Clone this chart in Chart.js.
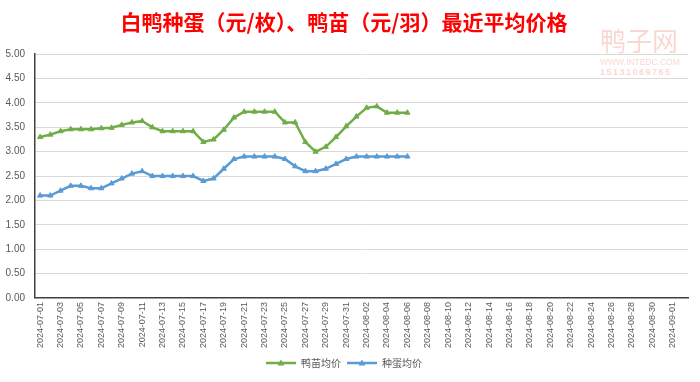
<!DOCTYPE html>
<html>
<head>
<meta charset="utf-8">
<script src="https://cdn.jsdelivr.net/npm/chart.js@4.4.1/dist/chart.umd.min.js"></script>
<style>
  html, body { margin: 0; padding: 0; background: #fff; }
  #wrap { width: 700px; height: 382px; position: relative; }
</style>
</head>
<body>
<div id="wrap"><canvas id="canvas"></canvas></div>
<script>
const dates = [
  "2024-07-01", "2024-07-02", "2024-07-03", "2024-07-04", "2024-07-05", "2024-07-06", "2024-07-07", "2024-07-08",
  "2024-07-09", "2024-07-10", "2024-07-11", "2024-07-12", "2024-07-13", "2024-07-14", "2024-07-15", "2024-07-16",
  "2024-07-17", "2024-07-18", "2024-07-19", "2024-07-20", "2024-07-21", "2024-07-22", "2024-07-23", "2024-07-24",
  "2024-07-25", "2024-07-26", "2024-07-27", "2024-07-28", "2024-07-29", "2024-07-30", "2024-07-31", "2024-08-01",
  "2024-08-02", "2024-08-03", "2024-08-04", "2024-08-05", "2024-08-06", "2024-08-07", "2024-08-08", "2024-08-09",
  "2024-08-10", "2024-08-11", "2024-08-12", "2024-08-13", "2024-08-14", "2024-08-15", "2024-08-16", "2024-08-17",
  "2024-08-18", "2024-08-19", "2024-08-20", "2024-08-21", "2024-08-22", "2024-08-23", "2024-08-24", "2024-08-25",
  "2024-08-26", "2024-08-27", "2024-08-28", "2024-08-29", "2024-08-30", "2024-08-31", "2024-09-01", "2024-09-02"
];

// 鸭苗均价 (元/羽)
const duckling_price = [
  3.30, 3.35, 3.42, 3.46, 3.46, 3.46, 3.48, 3.49, 3.55, 3.60, 3.63, 3.50, 3.42, 3.42, 3.42, 3.42,
  3.20, 3.25, 3.45, 3.70, 3.82, 3.82, 3.82, 3.82, 3.60, 3.60, 3.20, 3.00, 3.10, 3.30, 3.52, 3.72,
  3.90, 3.93, 3.80, 3.80, 3.80
];

// 种蛋均价 (元/枚)
const egg_price = [
  2.10, 2.10, 2.20, 2.30, 2.30, 2.25, 2.25, 2.35, 2.45, 2.55, 2.60, 2.50, 2.50, 2.50, 2.50, 2.50,
  2.40, 2.45, 2.65, 2.85, 2.90, 2.90, 2.90, 2.90, 2.85, 2.70, 2.60, 2.60, 2.65, 2.75, 2.85, 2.90,
  2.90, 2.90, 2.90, 2.90, 2.90
];

const series_names = ["鸭苗均价", "种蛋均价"];
const green = "#70AD47";
const blue = "#5B9BD5";

// little line + triangle swatch for the legend
function legendSwatch(color) {
  const c = document.createElement("canvas");
  c.width = 30;
  c.height = 10;
  const g = c.getContext("2d");
  g.strokeStyle = color;
  g.lineWidth = 2.5;
  g.beginPath();
  g.moveTo(0, 5);
  g.lineTo(30, 5);
  g.stroke();
  g.fillStyle = color;
  g.beginPath();
  g.moveTo(15, 1.5);
  g.lineTo(18.5, 7.5);
  g.lineTo(11.5, 7.5);
  g.closePath();
  g.fill();
  return c;
}

const watermark = {
  id: "watermark",
  afterDraw(chart) {
    const ctx = chart.ctx;
    ctx.save();
    ctx.fillStyle = "rgba(240,140,120,0.35)";
    ctx.textAlign = "left";
    ctx.textBaseline = "middle";
    ctx.font = "26px 'Noto Sans CJK SC'";
    ctx.fillText("鸭子网", 600, 41);
    ctx.font = "8.5px 'Liberation Sans'";
    ctx.fillText("WWW.INTEDC.COM", 600, 63);
    ctx.font = "bold 9px 'Liberation Sans'";
    ctx.letterSpacing = "1.5px";
    ctx.fillText("15131069765", 600, 73);
    ctx.restore();
  },
};

const chartContainer = document.getElementById("canvas").getContext("2d");
new Chart(chartContainer, {
  type: "line",
  data: {
    labels: dates,
    datasets: [
      {
        label: series_names[0],
        data: duckling_price,
        borderColor: green,
        backgroundColor: green,
        borderWidth: 2.5,
        pointStyle: "triangle",
        pointRadius: 3,
        pointBackgroundColor: green,
        pointBorderColor: green,
        pointBorderWidth: 1,
        tension: 0,
      },
      {
        label: series_names[1],
        data: egg_price,
        borderColor: blue,
        backgroundColor: blue,
        borderWidth: 2.5,
        pointStyle: "triangle",
        pointRadius: 3,
        pointBackgroundColor: blue,
        pointBorderColor: blue,
        pointBorderWidth: 1,
        tension: 0,
      },
    ],
  },
  options: {
    responsive: true,
    maintainAspectRatio: false,
    animation: false,
    layout: { padding: { left: 0, right: 12, top: 0, bottom: 4 } },
    plugins: {
      title: {
        display: true,
        text: "白鸭种蛋（元/枚）、鸭苗（元/羽）最近平均价格",
        color: "#FF0000",
        font: { size: 21, weight: "bold", family: "'Noto Sans CJK SC'" },
        padding: { top: 9, bottom: 20 },
      },
      legend: {
        position: "bottom",
        labels: {
          usePointStyle: true,
          pointStyleWidth: 30,
          color: "#595959",
          font: { size: 10, family: "'Noto Sans CJK SC'" },
          boxHeight: 10,
          padding: 6,
          generateLabels(chart) {
            return chart.data.datasets.map((ds, i) => ({
              text: ds.label,
              pointStyle: legendSwatch(ds.borderColor),
              fillStyle: ds.borderColor,
              strokeStyle: ds.borderColor,
              fontColor: "#595959",
              lineWidth: 0,
              datasetIndex: i,
              hidden: false,
            }));
          },
        },
      },
      tooltip: { enabled: false },
    },
    scales: {
      x: {
        offset: true,
        grid: { display: false, drawTicks: false },
        border: { color: "#404040", width: 1.5 },
        ticks: {
          autoSkip: false,
          minRotation: 90,
          maxRotation: 90,
          padding: 4,
          color: "#595959",
          font: { size: 9, family: "'Liberation Sans'" },
          callback: function (value, index) {
            return index % 2 === 0 ? this.getLabelForValue(value) : "";
          },
        },
      },
      y: {
        min: 0,
        max: 5,
        afterFit(scale) {
          scale.width = 35;
        },
        grid: { color: "#D9D9D9", drawTicks: false },
        border: { color: "#404040", width: 1.5 },
        ticks: {
          stepSize: 0.5,
          padding: 10,
          color: "#595959",
          font: { size: 10, family: "'Liberation Sans'" },
          callback: (v) => v.toFixed(2),
        },
      },
    },
  },
  plugins: [watermark],
});
</script>
</body>
</html>
